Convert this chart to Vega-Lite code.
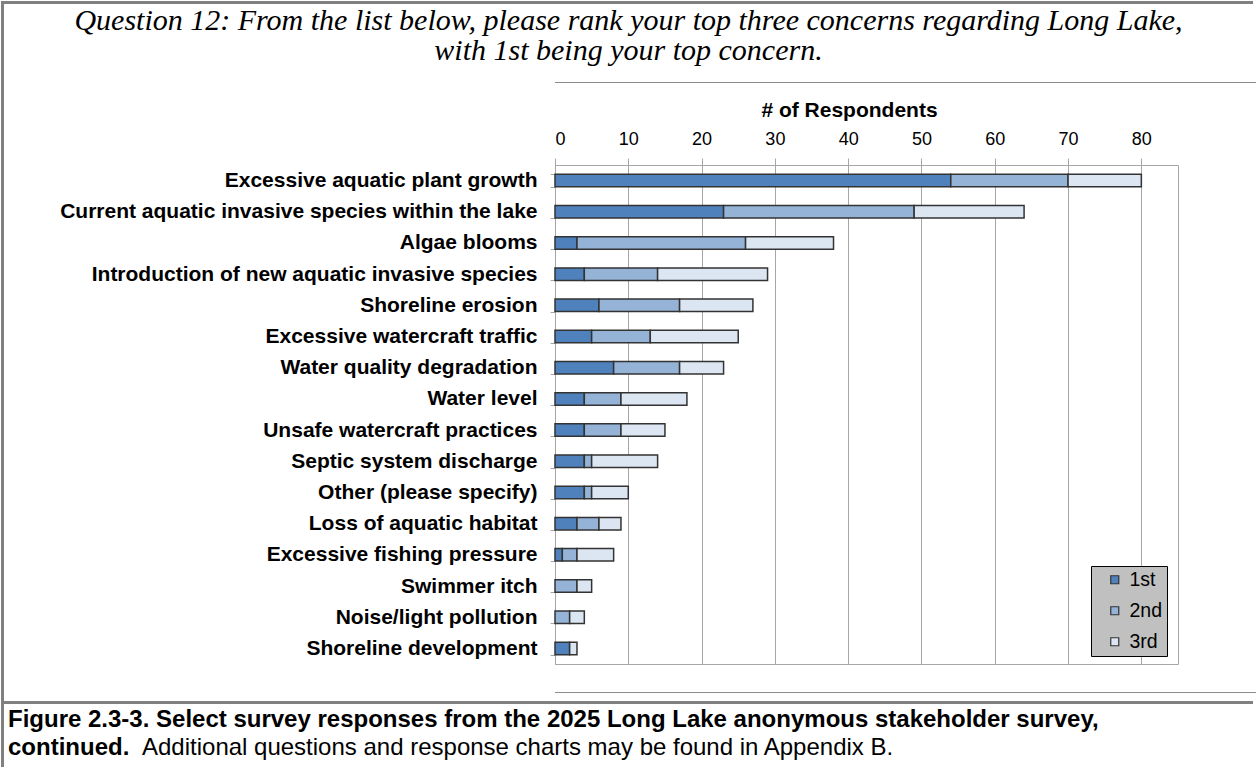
{
  "$schema": "https://vega.github.io/schema/vega-lite/v6.json",
  "background": "white",
  "padding": {"left": 1, "top": 1, "right": 0, "bottom": 0},
  "config": {
    "font": "Liberation Sans",
    "view": {"stroke": null},
    "concat": {"spacing": 0},
    "title": {"color": "#000000"}
  },
  "datasets": {
    "none": [],
    "responses": [
      {"concern": "Excessive aquatic plant growth", "rank": "1st", "respondents": 54},
      {"concern": "Excessive aquatic plant growth", "rank": "2nd", "respondents": 16},
      {"concern": "Excessive aquatic plant growth", "rank": "3rd", "respondents": 10},
      {"concern": "Current aquatic invasive species within the lake", "rank": "1st", "respondents": 23},
      {"concern": "Current aquatic invasive species within the lake", "rank": "2nd", "respondents": 26},
      {"concern": "Current aquatic invasive species within the lake", "rank": "3rd", "respondents": 15},
      {"concern": "Algae blooms", "rank": "1st", "respondents": 3},
      {"concern": "Algae blooms", "rank": "2nd", "respondents": 23},
      {"concern": "Algae blooms", "rank": "3rd", "respondents": 12},
      {"concern": "Introduction of new aquatic invasive species", "rank": "1st", "respondents": 4},
      {"concern": "Introduction of new aquatic invasive species", "rank": "2nd", "respondents": 10},
      {"concern": "Introduction of new aquatic invasive species", "rank": "3rd", "respondents": 15},
      {"concern": "Shoreline erosion", "rank": "1st", "respondents": 6},
      {"concern": "Shoreline erosion", "rank": "2nd", "respondents": 11},
      {"concern": "Shoreline erosion", "rank": "3rd", "respondents": 10},
      {"concern": "Excessive watercraft traffic", "rank": "1st", "respondents": 5},
      {"concern": "Excessive watercraft traffic", "rank": "2nd", "respondents": 8},
      {"concern": "Excessive watercraft traffic", "rank": "3rd", "respondents": 12},
      {"concern": "Water quality degradation", "rank": "1st", "respondents": 8},
      {"concern": "Water quality degradation", "rank": "2nd", "respondents": 9},
      {"concern": "Water quality degradation", "rank": "3rd", "respondents": 6},
      {"concern": "Water level", "rank": "1st", "respondents": 4},
      {"concern": "Water level", "rank": "2nd", "respondents": 5},
      {"concern": "Water level", "rank": "3rd", "respondents": 9},
      {"concern": "Unsafe watercraft practices", "rank": "1st", "respondents": 4},
      {"concern": "Unsafe watercraft practices", "rank": "2nd", "respondents": 5},
      {"concern": "Unsafe watercraft practices", "rank": "3rd", "respondents": 6},
      {"concern": "Septic system discharge", "rank": "1st", "respondents": 4},
      {"concern": "Septic system discharge", "rank": "2nd", "respondents": 1},
      {"concern": "Septic system discharge", "rank": "3rd", "respondents": 9},
      {"concern": "Other (please specify)", "rank": "1st", "respondents": 4},
      {"concern": "Other (please specify)", "rank": "2nd", "respondents": 1},
      {"concern": "Other (please specify)", "rank": "3rd", "respondents": 5},
      {"concern": "Loss of aquatic habitat", "rank": "1st", "respondents": 3},
      {"concern": "Loss of aquatic habitat", "rank": "2nd", "respondents": 3},
      {"concern": "Loss of aquatic habitat", "rank": "3rd", "respondents": 3},
      {"concern": "Excessive fishing pressure", "rank": "1st", "respondents": 1},
      {"concern": "Excessive fishing pressure", "rank": "2nd", "respondents": 2},
      {"concern": "Excessive fishing pressure", "rank": "3rd", "respondents": 5},
      {"concern": "Swimmer itch", "rank": "2nd", "respondents": 3},
      {"concern": "Swimmer itch", "rank": "3rd", "respondents": 2},
      {"concern": "Noise/light pollution", "rank": "2nd", "respondents": 2},
      {"concern": "Noise/light pollution", "rank": "3rd", "respondents": 2},
      {"concern": "Shoreline development", "rank": "1st", "respondents": 2},
      {"concern": "Shoreline development", "rank": "3rd", "respondents": 1}
    ]
  },
  "hconcat": [
    {"width": 3, "height": 766, "data": {"name": "none"}, "mark": "point", "view": {"fill": "#808080"}},
    {
      "spacing": 0,
      "vconcat": [
        {"width": 1249, "height": 3, "data": {"name": "none"}, "mark": "point", "view": {"fill": "#808080"}},
        {"width": 1, "height": 2, "data": {"name": "none"}, "mark": "point"},
        {
          "width": 1249, "height": 1, "data": {"name": "none"}, "mark": "point",
          "title": {
            "text": ["Question 12: From the list below, please rank your top three concerns regarding Long Lake,", "with 1st being your top concern."],
            "anchor": "middle", "frame": "group",
            "font": "Liberation Serif", "fontStyle": "italic", "fontWeight": "normal",
            "fontSize": 30, "lineHeight": 30, "offset": 0
          }
        },
        {"width": 1, "height": 15, "data": {"name": "none"}, "mark": "point"},
        {
          "spacing": 0,
          "hconcat": [
            {"width": 55, "height": 1, "data": {"name": "none"}, "mark": "point"},
            {
              "spacing": 0,
              "hconcat": [
                {
                  "spacing": 0,
                  "vconcat": [
                    {"width": 1151, "height": 1, "data": {"name": "none"}, "mark": "point", "view": {"fill": "#8c8c8c"}},
                    {"width": 1, "height": 15, "data": {"name": "none"}, "mark": "point"},
                    {
                      "spacing": 0,
                      "hconcat": [
                        {
                          "width": 623, "height": 499,
                          "data": {"name": "responses"},
                          "view": {"stroke": "#a6a6a6", "strokeWidth": 1},
                          "mark": {"type": "bar", "stroke": "#333333", "strokeWidth": 1.5},
                          "encoding": {
                            "y": {
                              "field": "concern", "type": "nominal",
                              "sort": [
                                "Excessive aquatic plant growth",
                                "Current aquatic invasive species within the lake",
                                "Algae blooms",
                                "Introduction of new aquatic invasive species",
                                "Shoreline erosion",
                                "Excessive watercraft traffic",
                                "Water quality degradation",
                                "Water level",
                                "Unsafe watercraft practices",
                                "Septic system discharge",
                                "Other (please specify)",
                                "Loss of aquatic habitat",
                                "Excessive fishing pressure",
                                "Swimmer itch",
                                "Noise/light pollution",
                                "Shoreline development"
                              ],
                              "scale": {"paddingInner": 0.6, "paddingOuter": 0.3},
                              "axis": {
                                "title": null,
                                "domain": true, "domainColor": "#a6a6a6",
                                "ticks": true, "tickBand": "extent", "tickSize": 5, "tickColor": "#a6a6a6",
                                "labelFont": "Liberation Sans", "labelFontSize": 21, "labelFontWeight": "bold",
                                "labelColor": "#000000", "labelPadding": 13, "labelLimit": 700
                              }
                            },
                            "x": {
                              "field": "respondents", "type": "quantitative", "stack": "zero",
                              "scale": {"domain": [0, 85], "nice": false},
                              "axis": {
                                "orient": "top",
                                "values": [0, 10, 20, 30, 40, 50, 60, 70, 80],
                                "grid": true, "gridColor": "#a6a6a6", "gridWidth": 1,
                                "domain": false,
                                "ticks": true, "tickSize": 7, "tickColor": "#a6a6a6",
                                "labelFont": "Liberation Sans", "labelFontSize": 18, "labelColor": "#000000", "labelPadding": 10,
                                "title": "# of Respondents",
                                "titleFont": "Liberation Sans", "titleFontSize": 21, "titleFontWeight": "bold", "titleColor": "#000000",
                                "titlePadding": 10, "titleX": 294
                              }
                            },
                            "color": {
                              "field": "rank", "type": "nominal",
                              "scale": {"domain": ["1st", "2nd", "3rd"], "range": ["#4f81bd", "#95b3d7", "#dce6f2"]},
                              "legend": {
                                "orient": "none", "legendX": 1090, "legendY": 565,
                                "title": null,
                                "fillColor": "#c0c0c0", "strokeColor": "#000000",
                                "padding": 4,
                                "symbolType": "square", "symbolSize": 64,
                                "symbolStrokeColor": "#333333", "symbolStrokeWidth": 1.2,
                                "symbolOffset": 10,
                                "labelFont": "Liberation Sans", "labelFontSize": 19.5, "labelColor": "#000000",
                                "labelOffset": 5, "rowPadding": 10,
                                "labelExpr": "datum.label + '\u00a0\u00a0\u00a0'"
                              }
                            }
                          }
                        }
                      ]
                    },
                    {"width": 1, "height": 27, "data": {"name": "none"}, "mark": "point"},
                    {"width": 1151, "height": 1, "data": {"name": "none"}, "mark": "point", "view": {"fill": "#8c8c8c"}}
                  ]
                },
                {"width": 1, "height": 612, "data": {"name": "none"}, "mark": "point", "view": {"fill": "#8c8c8c"}}
              ]
            }
          ]
        },
        {"width": 1, "height": 7, "data": {"name": "none"}, "mark": "point"},
        {"width": 1249, "height": 3, "data": {"name": "none"}, "mark": "point", "view": {"fill": "#808080"}},
        {"width": 1, "height": 4, "data": {"name": "none"}, "mark": "point"},
        {
          "width": 1249, "height": 1, "data": {"name": "none"}, "mark": "point",
          "title": {
            "text": "Figure 2.3-3.  Select survey responses from the 2025 Long Lake anonymous stakeholder survey,",
            "anchor": "start", "frame": "group",
            "font": "Liberation Sans", "fontSize": 24, "fontWeight": "bold",
            "dx": 4, "offset": 3
          }
        },
        {
          "spacing": 12,
          "hconcat": [
            {
              "width": 1, "height": 1, "data": {"name": "none"}, "mark": "point",
              "title": {
                "text": "continued.", "anchor": "start", "frame": "group",
                "font": "Liberation Sans", "fontSize": 24, "fontWeight": "bold", "dx": 4, "offset": 0
              }
            },
            {
              "width": 1, "height": 1, "data": {"name": "none"}, "mark": "point",
              "title": {
                "text": "Additional questions and response charts may be found in Appendix B.",
                "anchor": "start", "frame": "group",
                "font": "Liberation Sans", "fontSize": 24, "fontWeight": "normal", "offset": 0
              }
            }
          ]
        }
      ]
    },
    {"width": 3, "height": 766, "data": {"name": "none"}, "mark": "point", "view": {"fill": "#808080"}}
  ]
}
